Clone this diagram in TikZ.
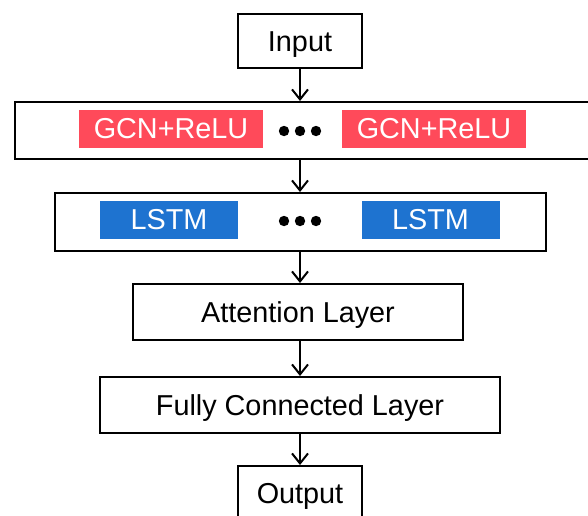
\documentclass[tikz,border=0pt]{standalone}
\usepackage{fontspec}
\setmainfont{Liberation Sans}
\usetikzlibrary{arrows.meta}
\definecolor{gcnred}{RGB}{255,74,90}
\definecolor{lstmblue}{RGB}{30,115,208}

\begin{document}
\begin{tikzpicture}[x=0.5pt, y=-0.5pt,
    font=\fontsize{14.4}{17}\selectfont,
    every node/.style={text height=10.3pt, text depth=0pt},
    box/.style={draw, line width=1pt, inner sep=0pt},
    cell/.style={inner sep=0pt, text=white, minimum height=19pt},
    >={Straight Barb[length=5pt,width=8pt]}]
    \useasboundingbox (0,0) rectangle (588,515);
    % 入力
    \node[box, minimum width=62pt, minimum height=27pt] (inp) at (300,41) {Input};
    % GCN層
    \node[box, minimum width=290pt, minimum height=28.5pt] (gcn) at (305,130.5) {};
    \node[cell, fill=gcnred, minimum width=92pt] (gcn1) at (171,128.5) {GCN+ReLU};
    \node[cell, fill=gcnred, minimum width=92pt] (gcn2) at (434,128.5) {GCN+ReLU};
    \foreach \x in {284,300,316}
        \fill (\x,131) circle (2.6pt);
    % LSTM層
    \node[box, minimum width=245.5pt, minimum height=29pt] (lstm) at (300,222) {};
    \node[cell, fill=lstmblue, minimum width=69pt] (lstm1) at (169,219.5) {LSTM};
    \node[cell, fill=lstmblue, minimum width=69pt] (lstm2) at (430.5,219.5) {LSTM};
    \foreach \x in {284,300,316}
        \fill (\x,221) circle (2.6pt);
    % 注意機構と全結合層
    \node[box, minimum width=165pt, minimum height=28pt] (att) at (298,312) {Attention Layer};
    \node[box, minimum width=200pt, minimum height=28pt] (fc) at (300,405) {Fully Connected Layer};
    % 出力
    \node[box, minimum width=62pt, minimum height=27pt] (out) at (300,493) {Output};
    % 矢印
    \draw[->, line width=1pt] (inp) -- (inp |- gcn.north);
    \draw[->, line width=1pt] (gcn.south -| inp) -- (lstm);
    \draw[->, line width=1pt] (lstm) -- (lstm |- att.north);
    \draw[->, line width=1pt] (lstm |- att.south) -- (fc);
    \draw[->, line width=1pt] (fc) -- (out);
\end{tikzpicture}
\end{document}
